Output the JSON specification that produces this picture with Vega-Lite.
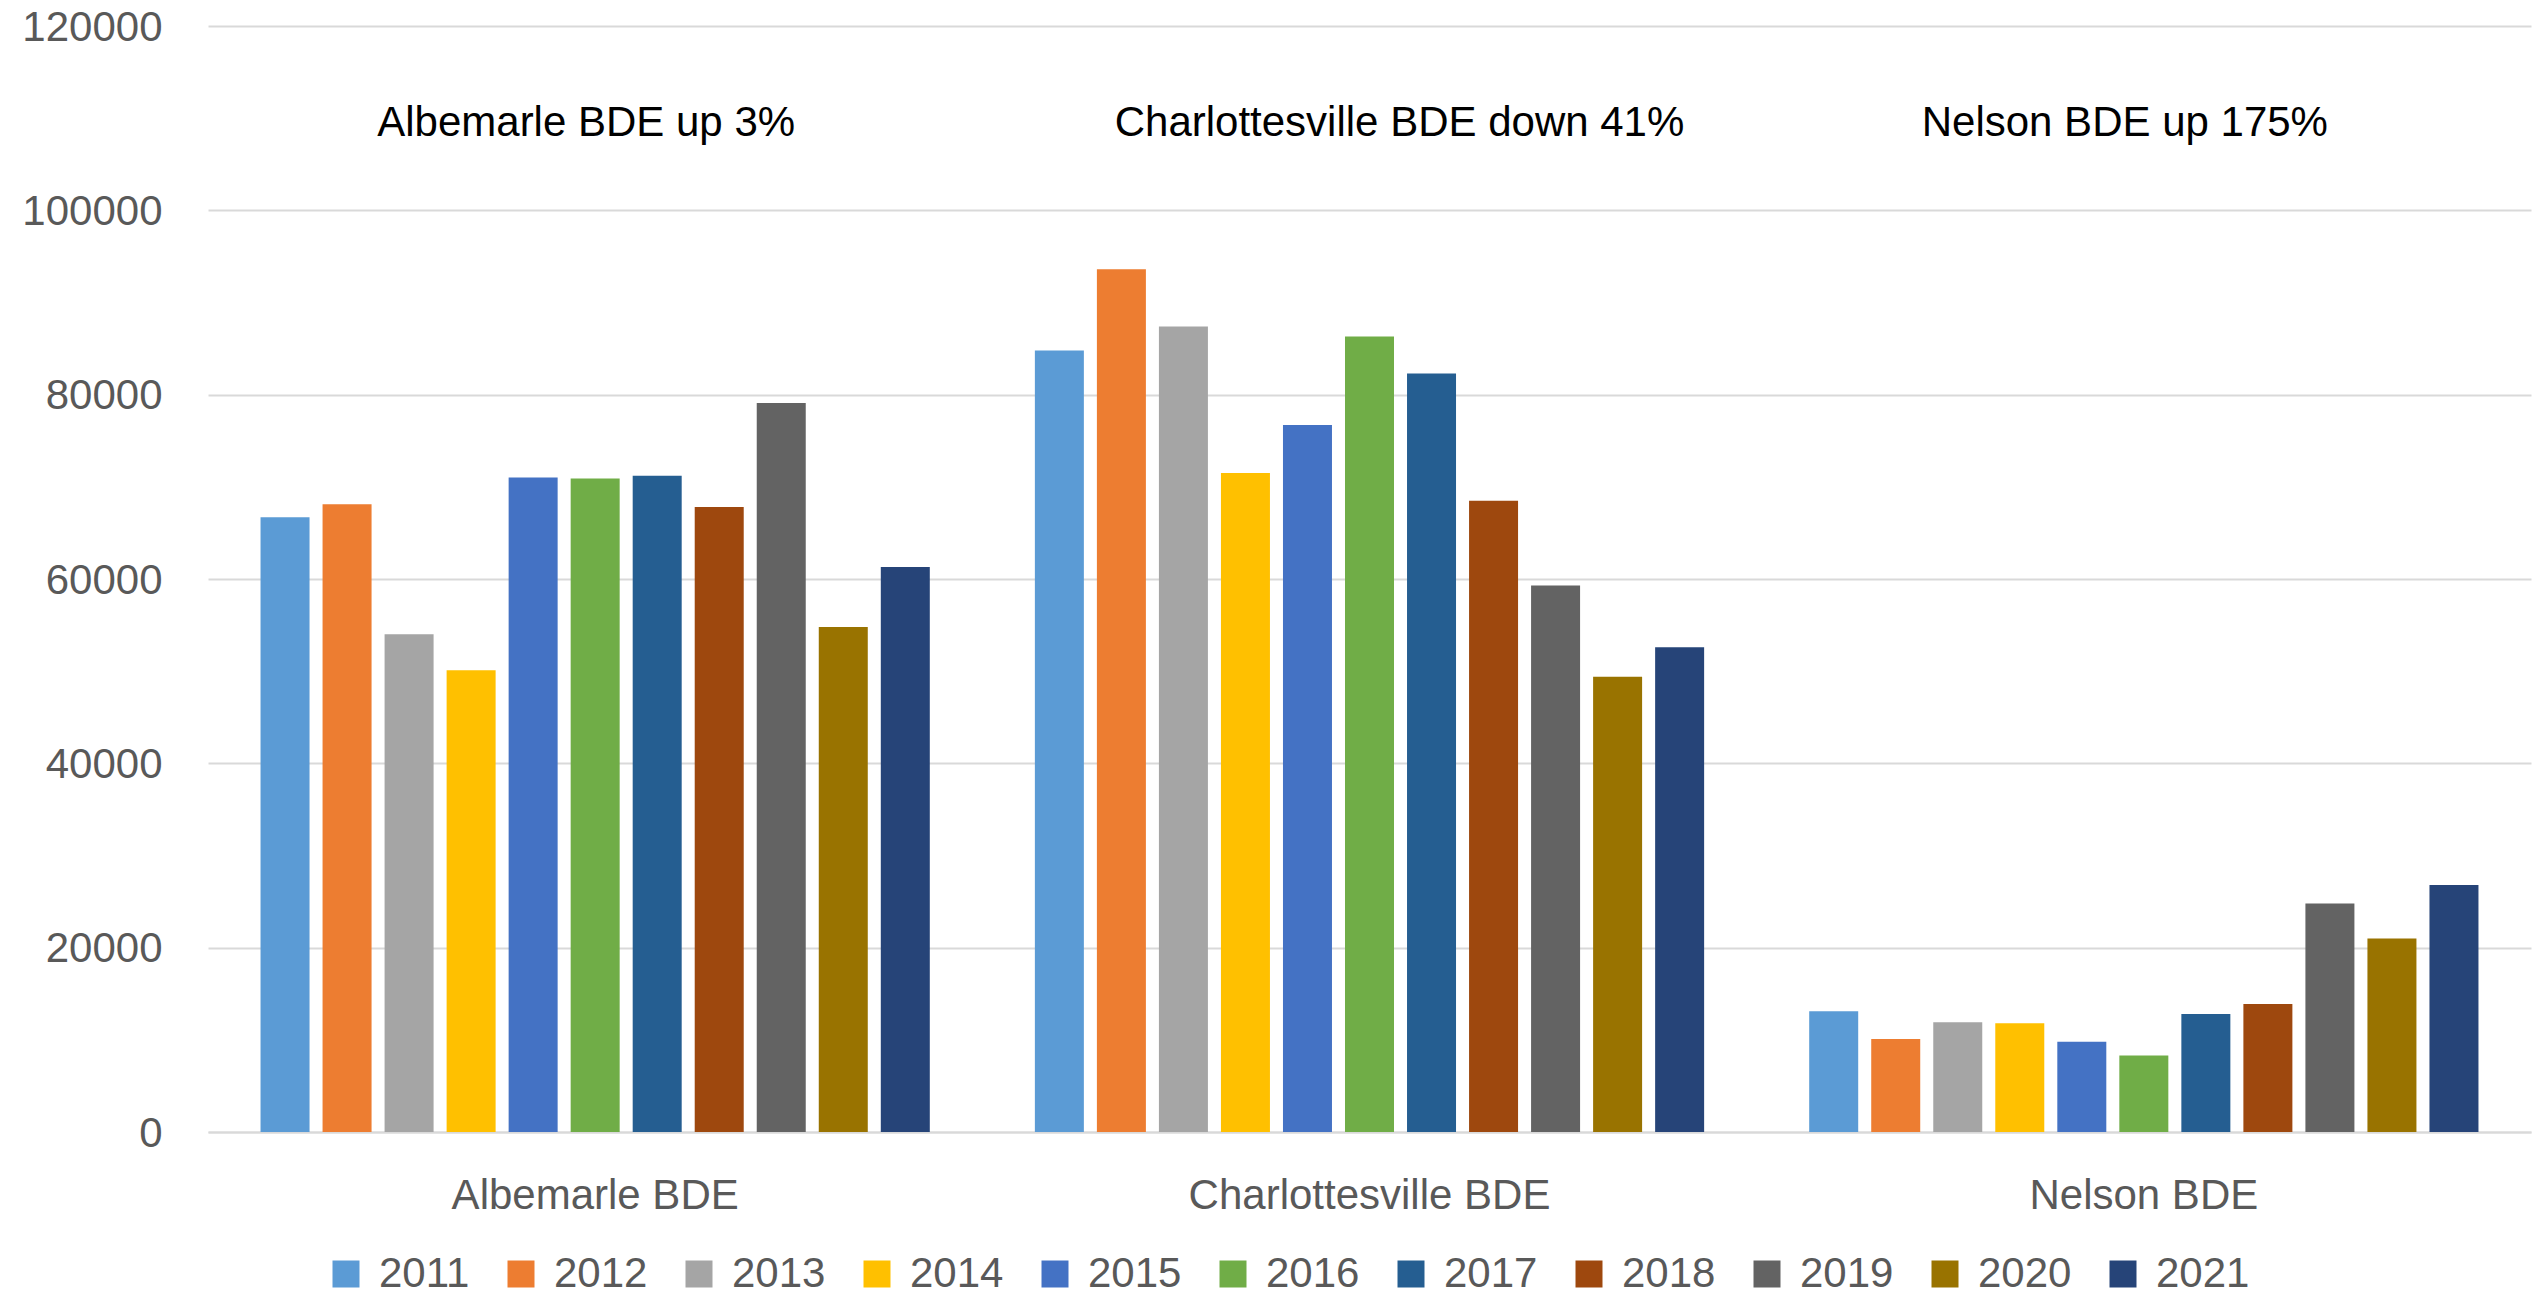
{
  "$schema": "https://vega.github.io/schema/vega-lite/v6.json",
  "autosize": {"type": "none"},
  "width": 2323,
  "height": 1106,
  "padding": {"left": 208, "top": 26, "right": 3, "bottom": 165},
  "background": "white",
  "config": {
    "view": {"stroke": null},
    "font": "Liberation Sans",
    "axis": {"labelFont": "Liberation Sans", "labelFontSize": 42, "labelColor": "#595959", "title": null, "labelLimit": 0}
  },
  "datasets": {
    "bde": [
      {"region": "Albemarle BDE", "year": "2011", "value": 66700},
      {"region": "Albemarle BDE", "year": "2012", "value": 68100},
      {"region": "Albemarle BDE", "year": "2013", "value": 54000},
      {"region": "Albemarle BDE", "year": "2014", "value": 50100},
      {"region": "Albemarle BDE", "year": "2015", "value": 71000},
      {"region": "Albemarle BDE", "year": "2016", "value": 70900},
      {"region": "Albemarle BDE", "year": "2017", "value": 71200},
      {"region": "Albemarle BDE", "year": "2018", "value": 67800},
      {"region": "Albemarle BDE", "year": "2019", "value": 79100},
      {"region": "Albemarle BDE", "year": "2020", "value": 54800},
      {"region": "Albemarle BDE", "year": "2021", "value": 61300},
      {"region": "Charlottesville BDE", "year": "2011", "value": 84800},
      {"region": "Charlottesville BDE", "year": "2012", "value": 93600},
      {"region": "Charlottesville BDE", "year": "2013", "value": 87400},
      {"region": "Charlottesville BDE", "year": "2014", "value": 71500},
      {"region": "Charlottesville BDE", "year": "2015", "value": 76700},
      {"region": "Charlottesville BDE", "year": "2016", "value": 86300},
      {"region": "Charlottesville BDE", "year": "2017", "value": 82300},
      {"region": "Charlottesville BDE", "year": "2018", "value": 68500},
      {"region": "Charlottesville BDE", "year": "2019", "value": 59300},
      {"region": "Charlottesville BDE", "year": "2020", "value": 49400},
      {"region": "Charlottesville BDE", "year": "2021", "value": 52600},
      {"region": "Nelson BDE", "year": "2011", "value": 13100},
      {"region": "Nelson BDE", "year": "2012", "value": 10100},
      {"region": "Nelson BDE", "year": "2013", "value": 11900},
      {"region": "Nelson BDE", "year": "2014", "value": 11800},
      {"region": "Nelson BDE", "year": "2015", "value": 9800},
      {"region": "Nelson BDE", "year": "2016", "value": 8300},
      {"region": "Nelson BDE", "year": "2017", "value": 12800},
      {"region": "Nelson BDE", "year": "2018", "value": 13900},
      {"region": "Nelson BDE", "year": "2019", "value": 24800},
      {"region": "Nelson BDE", "year": "2020", "value": 21000},
      {"region": "Nelson BDE", "year": "2021", "value": 26800}
    ],
    "notes": [
      {"region": "Albemarle BDE", "note": "Albemarle BDE up 3%"},
      {"region": "Charlottesville BDE", "note": "Charlottesville BDE down 41%"},
      {"region": "Nelson BDE", "note": "Nelson BDE up 175%"}
    ]
  },
  "encoding": {
    "x": {
      "field": "region",
      "type": "nominal",
      "sort": null,
      "scale": {"paddingInner": 0, "paddingOuter": 0},
      "axis": {
        "orient": "bottom",
        "labelAngle": 0,
        "ticks": false,
        "tickSize": 0,
        "domain": true,
        "domainColor": "#D9D9D9",
        "domainWidth": 2,
        "labelBaseline": "alphabetic",
        "labelPadding": 76,
        "labelLimit": 0
      }
    }
  },
  "layer": [
    {
      "data": {"name": "bde"},
      "mark": {"type": "bar"},
      "encoding": {
        "xOffset": {
          "field": "year",
          "type": "nominal",
          "sort": null,
          "scale": {"paddingInner": 0.21, "paddingOuter": 0.847}
        },
        "y": {
          "field": "value",
          "type": "quantitative",
          "scale": {"domain": [0, 120000], "nice": false},
          "axis": {
            "values": [0, 20000, 40000, 60000, 80000, 100000, 120000],
            "format": "d",
            "grid": true,
            "gridColor": "#D9D9D9",
            "gridWidth": 2,
            "domain": false,
            "ticks": false,
            "tickSize": 0,
            "labelPadding": 46,
            "labelBaseline": "alphabetic",
            "labelOffset": 14
          }
        },
        "color": {
          "field": "year",
          "type": "nominal",
          "sort": null,
          "scale": {
            "domain": ["2011", "2012", "2013", "2014", "2015", "2016", "2017", "2018", "2019", "2020", "2021"],
            "range": ["#5B9BD5", "#ED7D31", "#A5A5A5", "#FFC000", "#4472C4", "#70AD47", "#255E91", "#9E480E", "#636363", "#997300", "#264478"]
          },
          "legend": {
            "title": null,
            "orient": "none",
            "direction": "horizontal",
            "legendX": 117,
            "legendY": 1227,
            "symbolType": "square",
            "symbolSize": 729,
            "symbolStrokeWidth": 0,
            "symbolOpacity": 1,
            "labelFont": "Liberation Sans",
            "labelFontSize": 42,
            "labelColor": "#595959",
            "labelOffset": 12,
            "columnPadding": 30
          }
        }
      }
    },
    {
      "data": {"name": "notes"},
      "transform": [{"filter": "datum.region === 'Albemarle BDE'"}],
      "mark": {"type": "text", "fontSize": 42, "font": "Liberation Sans", "color": "#000000", "align": "center", "baseline": "alphabetic", "dx": -9},
      "encoding": {"y": {"datum": 108100, "type": "quantitative"}, "text": {"field": "note"}}
    },
    {
      "data": {"name": "notes"},
      "transform": [{"filter": "datum.region === 'Charlottesville BDE'"}],
      "mark": {"type": "text", "fontSize": 42, "font": "Liberation Sans", "color": "#000000", "align": "center", "baseline": "alphabetic", "dx": 30},
      "encoding": {"y": {"datum": 108100, "type": "quantitative"}, "text": {"field": "note"}}
    },
    {
      "data": {"name": "notes"},
      "transform": [{"filter": "datum.region === 'Nelson BDE'"}],
      "mark": {"type": "text", "fontSize": 42, "font": "Liberation Sans", "color": "#000000", "align": "center", "baseline": "alphabetic", "dx": -19},
      "encoding": {"y": {"datum": 108100, "type": "quantitative"}, "text": {"field": "note"}}
    }
  ]
}
